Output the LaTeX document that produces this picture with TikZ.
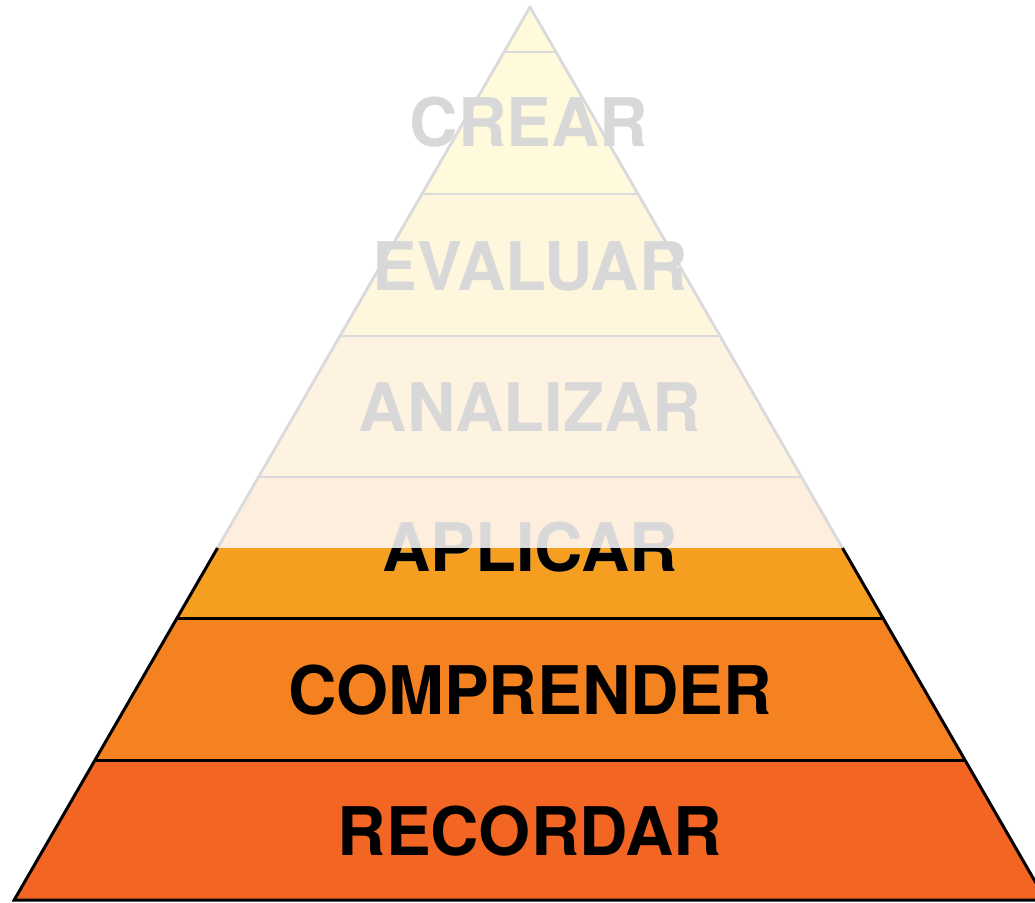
\documentclass[tikz,border=0pt]{standalone}
\usepackage{fontspec}
\setmainfont{TeX Gyre Heros}
\definecolor{tipc}{HTML}{FFFBDA}
\definecolor{creac}{HTML}{FEFADB}
\definecolor{evalc}{HTML}{FEF7DE}
\definecolor{anac}{HTML}{FEF3E0}
\definecolor{aplfc}{HTML}{FDEEDE}
\definecolor{aplc}{HTML}{F69E1F}
\definecolor{compc}{HTML}{F58220}
\definecolor{recc}{HTML}{F26522}
\definecolor{fadetext}{HTML}{D8D8D8}
\definecolor{fadeline}{HTML}{DADADC}
\begin{document}
\begin{tikzpicture}[x=1pt,y=-1pt,
  lbl/.style={font=\fontsize{67}{67}\selectfont\bfseries, inner sep=0pt},
  fadelbl/.style={lbl, text=fadetext},
  solidlbl/.style={lbl, text=black},
  fadeedge/.style={draw=fadeline, line width=2.8pt},
  solidedge/.style={draw=black, line width=3pt}]
\useasboundingbox (0,0) rectangle (1035,902);
% faded bands
\fill[tipc] (530,7) -- (556,52) -- (504,52) -- cycle;
\fill[creac] (504,52) -- (556,52) -- (638,194) -- (422,194) -- cycle;
\fill[evalc] (422,194) -- (638,194) -- (720,336) -- (340,336) -- cycle;
\fill[anac] (340,336) -- (720,336) -- (801.5,477) -- (258.5,477) -- cycle;
\fill[aplfc] (258.5,477) -- (801.5,477) -- (842.5,548) -- (217.5,548) -- cycle;
% solid bands
\fill[aplc] (217.5,548) -- (842.5,548) -- (882.9,618) -- (177.1,618) -- cycle;
\fill[compc] (177.1,618) -- (882.9,618) -- (964.9,760) -- (95.1,760) -- cycle;
\fill[recc] (95.1,760) -- (964.9,760) -- (1045.8,900) -- (14.2,900) -- cycle;
% faded outlines
\draw[fadeedge, line join=round] (217.5,548) -- (530,7) -- (842.5,548);
\draw[fadeedge] (504,52) -- (556,52);
\draw[fadeedge] (422,194) -- (638,194);
\draw[fadeedge] (340,336) -- (720,336);
\draw[fadeedge] (258.5,477) -- (801.5,477);
% solid outlines
\draw[solidedge] (217.5,548) -- (14.2,900) -- (1045.8,900) -- (842.5,548);
\draw[solidedge] (177.1,618) -- (882.9,618);
\draw[solidedge] (95.1,760) -- (964.9,760);
% labels
\node[fadelbl] (crear) at (529,122) {CREAR};
\node[fadelbl] (evaluar) at (530,266) {EVALUAR};
\node[fadelbl] (analizar) at (530,407) {ANALIZAR};
\node[fadelbl] (aplicarf) at (530,547) {APLICAR};
\begin{scope}
\clip (0,548) rectangle (1035,618);
\node[solidlbl] (aplicar) at (530,547) {APLICAR};
\end{scope}
\node[solidlbl] (comprender) at (530,690) {COMPRENDER};
\node[solidlbl] (recordar) at (530,831) {RECORDAR};
\end{tikzpicture}
\end{document}
